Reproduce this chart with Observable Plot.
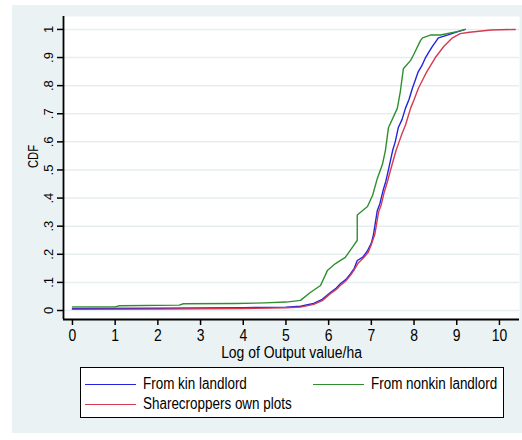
<!DOCTYPE html>
<html>
<head>
<meta charset="utf-8">
<script src="https://cdn.jsdelivr.net/npm/d3@7"></script>
<script src="https://cdn.jsdelivr.net/npm/@observablehq/plot@0.6"></script>
<style>
  html, body { margin: 0; padding: 0; background: #ffffff; }
  body { width: 522px; height: 440px; position: relative; overflow: hidden;
         font-family: "Liberation Sans", Arial, sans-serif; }
  #region { position: absolute; left: 12px; top: 5px; width: 510px; height: 428px; background: #eaf2f3; }
  #chart { position: absolute; left: 0; top: 0; }
  #legend { position: absolute; left: 68px; top: 362px; width: 424px; height: 51px;
            background: #ffffff; border: 1.5px solid #000; box-sizing: border-box; }
  .item { position: absolute; display: flex; align-items: center; font-size: 16px; color: #000; white-space: nowrap; }
  .swatch { display: inline-block; width: 51px; height: 0; border-top: 1.5px solid; margin-right: 7px; }
  .lbl { display: inline-block; transform: scaleX(0.84); transform-origin: left center; }
</style>
</head>
<body>
<div id="region">
  <div id="chart"></div>
  <div id="legend"></div>
</div>
<script>
// ---- data ----
const seriesNames = ["From kin landlord", "From nonkin landlord", "Sharecroppers own plots"];
const seriesColors = ["#2424e0", "#2f8f2f", "#d63a50"];

const kinX = [0, 2, 4, 5, 5.34, 5.65, 5.85, 6.04, 6.18, 6.28, 6.4, 6.51, 6.6, 6.67, 6.8, 6.9, 7.0, 7.05, 7.14, 7.2, 7.28, 7.34, 7.4, 7.5, 7.56, 7.63, 7.72, 7.8, 7.88, 7.96, 8.03, 8.1, 8.18, 8.27, 8.35, 8.43, 8.57, 8.78, 9.08, 9.2];
const kinY = [0.007, 0.008, 0.01, 0.012, 0.015, 0.025, 0.04, 0.064, 0.08, 0.096, 0.11, 0.13, 0.15, 0.178, 0.19, 0.21, 0.24, 0.27, 0.356, 0.38, 0.43, 0.46, 0.50, 0.57, 0.60, 0.65, 0.68, 0.72, 0.75, 0.79, 0.82, 0.85, 0.87, 0.90, 0.92, 0.94, 0.97, 0.98, 0.995, 1.0];

const nonkinX = [0, 1.0, 1.1, 2.5, 2.6, 3.8, 4.5, 5.0, 5.34, 5.57, 5.81, 5.97, 6.16, 6.39, 6.58, 6.67, 6.67, 6.91, 7.03, 7.14, 7.26, 7.33, 7.40, 7.61, 7.68, 7.75, 7.92, 7.99, 8.15, 8.2, 8.38, 8.62, 9.09, 9.2];
const nonkinY = [0.013, 0.013, 0.017, 0.019, 0.024, 0.025, 0.027, 0.03, 0.036, 0.064, 0.089, 0.142, 0.167, 0.189, 0.23, 0.25, 0.34, 0.37, 0.41, 0.47, 0.52, 0.57, 0.65, 0.72, 0.78, 0.86, 0.89, 0.91, 0.96, 0.97, 0.98, 0.98, 0.995, 1.0];

const shareX = [0, 2, 4, 5, 5.34, 5.65, 5.85, 6.04, 6.18, 6.28, 6.4, 6.51, 6.6, 6.7, 6.8, 6.92, 7.0, 7.08, 7.17, 7.23, 7.3, 7.38, 7.45, 7.58, 7.65, 7.72, 7.8, 7.92, 8.0, 8.1, 8.2, 8.3, 8.4, 8.5, 8.7, 8.9, 9.08, 9.3, 9.8, 10.37];
const shareY = [0.004, 0.005, 0.007, 0.01, 0.012, 0.022, 0.035, 0.06, 0.075, 0.09, 0.105, 0.125, 0.145, 0.17, 0.185, 0.205, 0.235, 0.27, 0.35, 0.375, 0.42, 0.46, 0.50, 0.57, 0.60, 0.63, 0.66, 0.72, 0.75, 0.79, 0.82, 0.85, 0.875, 0.90, 0.94, 0.97, 0.985, 0.99, 0.998, 1.0];

const xTicks = [0, 1, 2, 3, 4, 5, 6, 7, 8, 9, 10];
const yTicks = [0, 0.1, 0.2, 0.3, 0.4, 0.5, 0.6, 0.7, 0.8, 0.9, 1];
const yTickLabels = ["0", ".1", ".2", ".3", ".4", ".5", ".6", ".7", ".8", ".9", "1"];
const xLabel = "Log of Output value/ha";
const yLabel = "CDF";

const xDomain = [-0.21, 10.47];
const yDomain = [-0.032, 1.046];

// ---- build table ----
const rows = [];
[[kinX, kinY], [nonkinX, nonkinY], [shareX, shareY]].forEach(([xs, ys], i) => {
  xs.forEach((x, j) => rows.push({series: seriesNames[i], x, y: ys[j]}));
});

const font = `"Liberation Sans", Arial, sans-serif`;

const chart = Plot.plot({
  width: 510,
  height: 360,
  marginLeft: 51,
  marginRight: 3,
  marginTop: 11,
  marginBottom: 46,
  style: {background: "transparent", fontFamily: font, fontSize: "16px", color: "#000", overflow: "visible"},
  x: {domain: xDomain},
  y: {domain: yDomain},
  color: {domain: seriesNames, range: seriesColors},
  marks: [
    Plot.frame({fill: "#ffffff", stroke: null}),
    Plot.ruleY(yTicks, {stroke: "#e6eef0", strokeWidth: 1.5}),
    Plot.line(rows, {x: "x", y: "y", z: "series", stroke: "series", strokeWidth: 1.4, curve: "linear"}),
    Plot.axisX({ticks: xTicks, tickSize: 6, tickPadding: 4, tickFormat: d => String(d), label: null, fontSize: 16, strokeWidth: 1.5}),
    Plot.axisY({ticks: yTicks, tickSize: 6, tickFormat: () => "", label: null, strokeWidth: 1.5}),
    Plot.text(yTicks, {y: d => d, frameAnchor: "left", dx: -15, rotate: -90, text: (d, i) => yTickLabels[i], textAnchor: "middle", fontSize: 13}),
    Plot.text([xLabel], {frameAnchor: "bottom", dy: 38, text: d => d, fontSize: 16}),
    Plot.text([yLabel], {frameAnchor: "left", dx: -30, rotate: -90, text: d => d, fontSize: 14}),
    Plot.ruleX([xDomain[0]], {stroke: "#000", strokeWidth: 1.8}),
    Plot.ruleY([yDomain[0]], {stroke: "#000", strokeWidth: 1.8})
  ]
});
document.getElementById("chart").appendChild(chart);

// Condense horizontal texts (the reference uses a narrow face)
chart.querySelectorAll("text").forEach(t => {
  const tr = t.getAttribute("transform") || "";
  const content = t.textContent;
  if (!tr.includes("rotate")) {
    t.setAttribute("transform", (tr + " scale(0.87,1)").trim());
  } else if (content === yLabel) {
    t.setAttribute("transform", tr + " scale(0.8,1)");
  }
});

// ---- legend ----
const legend = document.getElementById("legend");
const positions = [{left: 4, top: 16}, {left: 232, top: 16}, {left: 4, top: 36}];
seriesNames.forEach((name, i) => {
  const it = document.createElement("div");
  it.className = "item";
  it.style.left = positions[i].left + "px";
  it.style.top = (positions[i].top - 10) + "px";
  it.style.height = "20px";
  const sw = document.createElement("span");
  sw.className = "swatch";
  sw.style.borderTopColor = seriesColors[i];
  it.appendChild(sw);
  const lb = document.createElement("span");
  lb.className = "lbl";
  lb.textContent = name;
  it.appendChild(lb);
  legend.appendChild(it);
});
</script>
</body>
</html>
